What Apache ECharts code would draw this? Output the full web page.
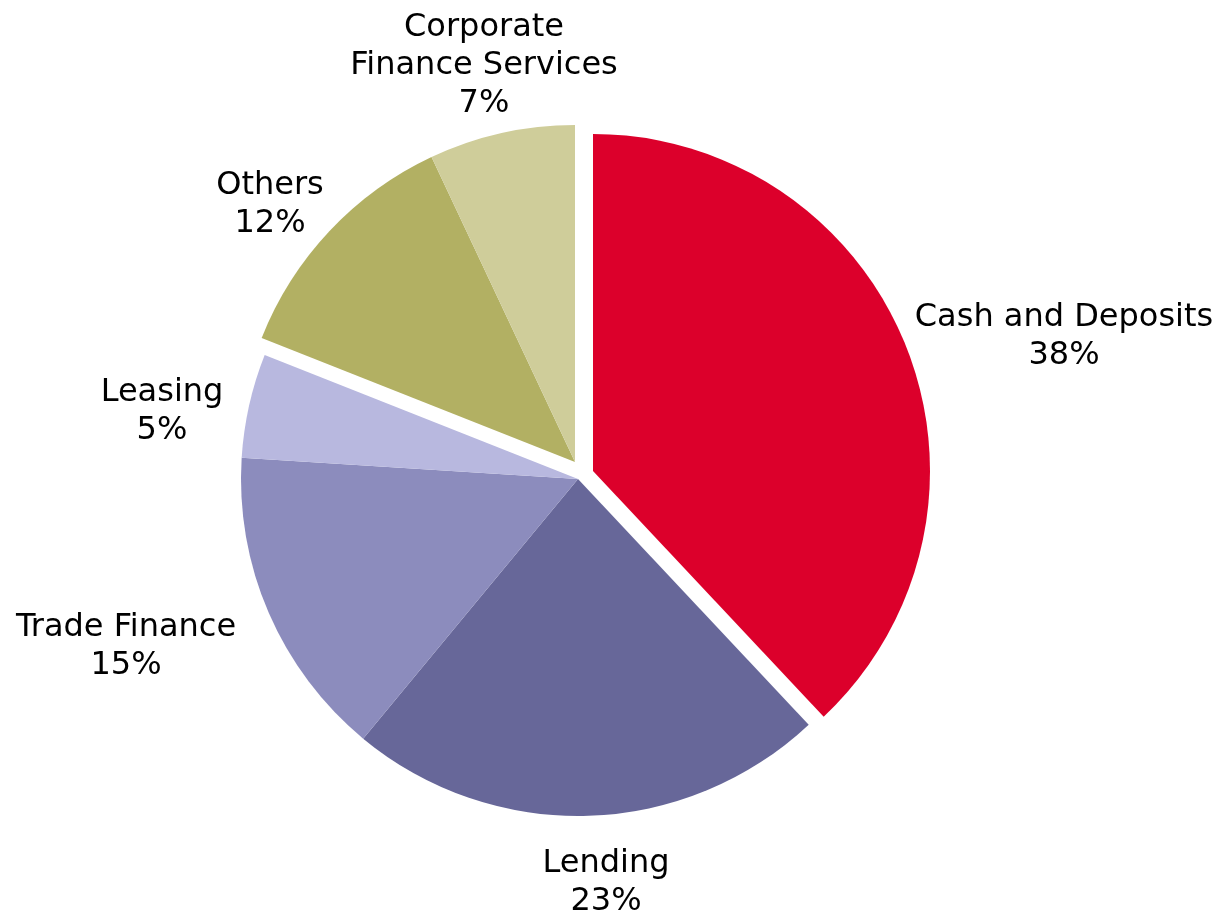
<!DOCTYPE html>
<html>
<head>
<meta charset="utf-8">
<title>Revenue mix by business line</title>
<script src="https://cdn.jsdelivr.net/npm/echarts@6/dist/echarts.min.js"></script>
<style>
  html, body { margin: 0; padding: 0; background: #ffffff; }
  #chart { width: 1221px; height: 916px; }
</style>
</head>
<body>
<div id="chart"></div>
<script>
// Business lines, clockwise from 12 o'clock
const categories = ['Cash and Deposits', 'Lending', 'Trade Finance', 'Leasing', 'Others', 'Corporate\nFinance Services'];
// Share of total, in percent
const shares = [38, 23, 15, 5, 12, 7];

// Slice colours
const sliceColors = ['#DC002B', '#676799', '#8C8CBD', '#B8B8DF', '#B2B063', '#CFCD9A'];

// Slices are pulled apart in three blocks, each block drawn around its own centre
const blocks = [
  { members: [0], center: [593, 471] },
  { members: [1, 2, 3], center: [578, 479] },
  { members: [4, 5], center: [575, 462] }
];
const RADIUS = 337;

// Where each label block is centred
const labelAnchor = [
  [1064, 337],
  [606, 883],
  [126, 647],
  [162, 412],
  [270, 205],
  [484, 66]
];

const chart = echarts.init(document.getElementById('chart'), null, { renderer: 'canvas' });

const series = blocks.map(function (block) {
  return {
    type: 'pie',
    center: block.center,
    radius: [0, RADIUS],
    startAngle: 90,
    clockwise: true,
    avoidLabelOverlap: false,
    silent: true,
    animation: false,
    emphasis: { disabled: true },
    labelLine: { show: false },
    labelLayout: function (p) {
      const a = labelAnchor[p.dataIndex];
      return { x: a[0], y: a[1], align: 'center', verticalAlign: 'middle', hideOverlap: false };
    },
    data: categories.map(function (name, i) {
      const inBlock = block.members.indexOf(i) >= 0;
      return {
        name: name,
        value: shares[i],
        itemStyle: { color: sliceColors[i], opacity: inBlock ? 1 : 0, borderWidth: 0 },
        label: {
          show: inBlock,
          position: 'outside',
          formatter: '{b}\n{c}%',
          color: '#000000',
          fontFamily: 'DejaVu Sans',
          fontSize: 32,
          lineHeight: 38
        }
      };
    })
  };
});

chart.setOption({
  backgroundColor: '#ffffff',
  animation: false,
  series: series
});
</script>
</body>
</html>
